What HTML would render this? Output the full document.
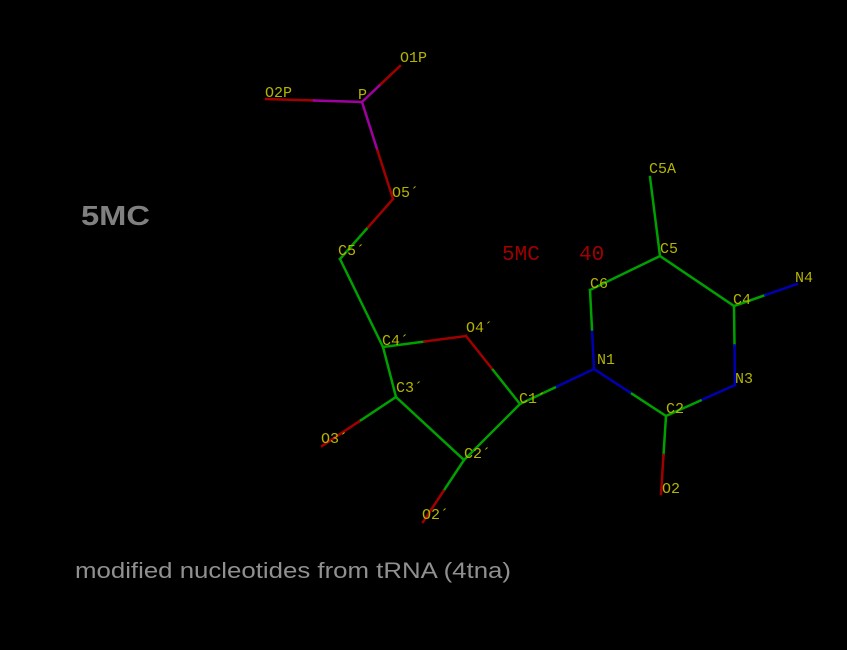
<!DOCTYPE html>
<html><head><style>
html,body{margin:0;padding:0;background:#000;}
svg{display:block}
text.l{font-family:"Liberation Mono",monospace;font-size:15px;fill:#b4b400}
</style></head><body>
<svg width="847" height="650" xmlns="http://www.w3.org/2000/svg">
<rect width="847" height="650" fill="#000"/>
<g stroke-width="2.5" stroke-linecap="square" fill="none">
<line x1="266" y1="99" x2="314" y2="100.5" stroke="#a00000"/>
<line x1="314" y1="100.5" x2="362" y2="102" stroke="#a000a0"/>
<line x1="362" y1="102" x2="381" y2="84" stroke="#a000a0"/>
<line x1="381" y1="84" x2="400" y2="66" stroke="#a00000"/>
<line x1="362" y1="102" x2="377.5" y2="150.5" stroke="#a000a0"/>
<line x1="377.5" y1="150.5" x2="393" y2="199" stroke="#a00000"/>
<line x1="393" y1="199" x2="366.5" y2="229" stroke="#a00000"/>
<line x1="366.5" y1="229" x2="340" y2="259" stroke="#00a000"/>
<line x1="340" y1="259" x2="383" y2="347" stroke="#00a000"/>
<line x1="383" y1="347" x2="424.5" y2="341.5" stroke="#00a000"/>
<line x1="424.5" y1="341.5" x2="466" y2="336" stroke="#a00000"/>
<line x1="466" y1="336" x2="493" y2="370" stroke="#a00000"/>
<line x1="493" y1="370" x2="520" y2="404" stroke="#00a000"/>
<line x1="383" y1="347" x2="396" y2="397" stroke="#00a000"/>
<line x1="396" y1="397" x2="464" y2="460" stroke="#00a000"/>
<line x1="464" y1="460" x2="520" y2="404" stroke="#00a000"/>
<line x1="396" y1="397" x2="359" y2="421.5" stroke="#00a000"/>
<line x1="359" y1="421.5" x2="322" y2="446" stroke="#a00000"/>
<line x1="464" y1="460" x2="443.5" y2="491" stroke="#00a000"/>
<line x1="443.5" y1="491" x2="423" y2="522" stroke="#a00000"/>
<line x1="520" y1="404" x2="557" y2="386.5" stroke="#00a000"/>
<line x1="557" y1="386.5" x2="594" y2="369" stroke="#0000b0"/>
<line x1="594" y1="369" x2="592" y2="329.5" stroke="#0000b0"/>
<line x1="592" y1="329.5" x2="590" y2="290" stroke="#00a000"/>
<line x1="590" y1="290" x2="660" y2="256" stroke="#00a000"/>
<line x1="660" y1="256" x2="734" y2="306" stroke="#00a000"/>
<line x1="660" y1="256" x2="650" y2="177" stroke="#00a000"/>
<line x1="734" y1="306" x2="765.5" y2="295" stroke="#00a000"/>
<line x1="765.5" y1="295" x2="797" y2="284" stroke="#0000b0"/>
<line x1="734" y1="306" x2="734.5" y2="345.5" stroke="#00a000"/>
<line x1="734.5" y1="345.5" x2="735" y2="385" stroke="#0000b0"/>
<line x1="735" y1="385" x2="700.5" y2="400.5" stroke="#0000b0"/>
<line x1="700.5" y1="400.5" x2="666" y2="416" stroke="#00a000"/>
<line x1="666" y1="416" x2="630" y2="392.5" stroke="#00a000"/>
<line x1="630" y1="392.5" x2="594" y2="369" stroke="#0000b0"/>
<line x1="666" y1="416" x2="663.5" y2="455" stroke="#00a000"/>
<line x1="663.5" y1="455" x2="661" y2="494" stroke="#a00000"/>
</g>
<text class="l" x="400" y="62">O1P</text>
<text class="l" x="265" y="97">O2P</text>
<text class="l" x="358" y="99">P</text>
<text class="l" x="392" y="197">O5´</text>
<text class="l" x="338" y="255">C5´</text>
<text class="l" x="382" y="345">C4´</text>
<text class="l" x="466" y="332">O4´</text>
<text class="l" x="396" y="392">C3´</text>
<text class="l" x="519" y="403">C1´</text>
<text class="l" x="464" y="458">C2´</text>
<text class="l" x="321" y="443">O3´</text>
<text class="l" x="422" y="519">O2´</text>
<text class="l" x="649" y="173">C5A</text>
<text class="l" x="660" y="253">C5</text>
<text class="l" x="590" y="288">C6</text>
<text class="l" x="733" y="304">C4</text>
<text class="l" x="795" y="282">N4</text>
<text class="l" x="597" y="364">N1</text>
<text class="l" x="735" y="383">N3</text>
<text class="l" x="666" y="413">C2</text>
<text class="l" x="662" y="493">O2</text>
<text x="502" y="260" font-family="Liberation Mono, monospace" font-size="21" fill="#a00000">5MC</text>
<text x="579" y="260" font-family="Liberation Mono, monospace" font-size="21" fill="#a00000">40</text>
<text x="81" y="225" font-family="Liberation Sans, sans-serif" font-size="28" font-weight="bold" fill="#808080" textLength="69" lengthAdjust="spacingAndGlyphs">5MC</text>
<text x="75" y="578" font-family="Liberation Sans, sans-serif" font-size="22" fill="#909090" textLength="436" lengthAdjust="spacingAndGlyphs">modified nucleotides from tRNA (4tna)</text>
</svg>
</body></html>
